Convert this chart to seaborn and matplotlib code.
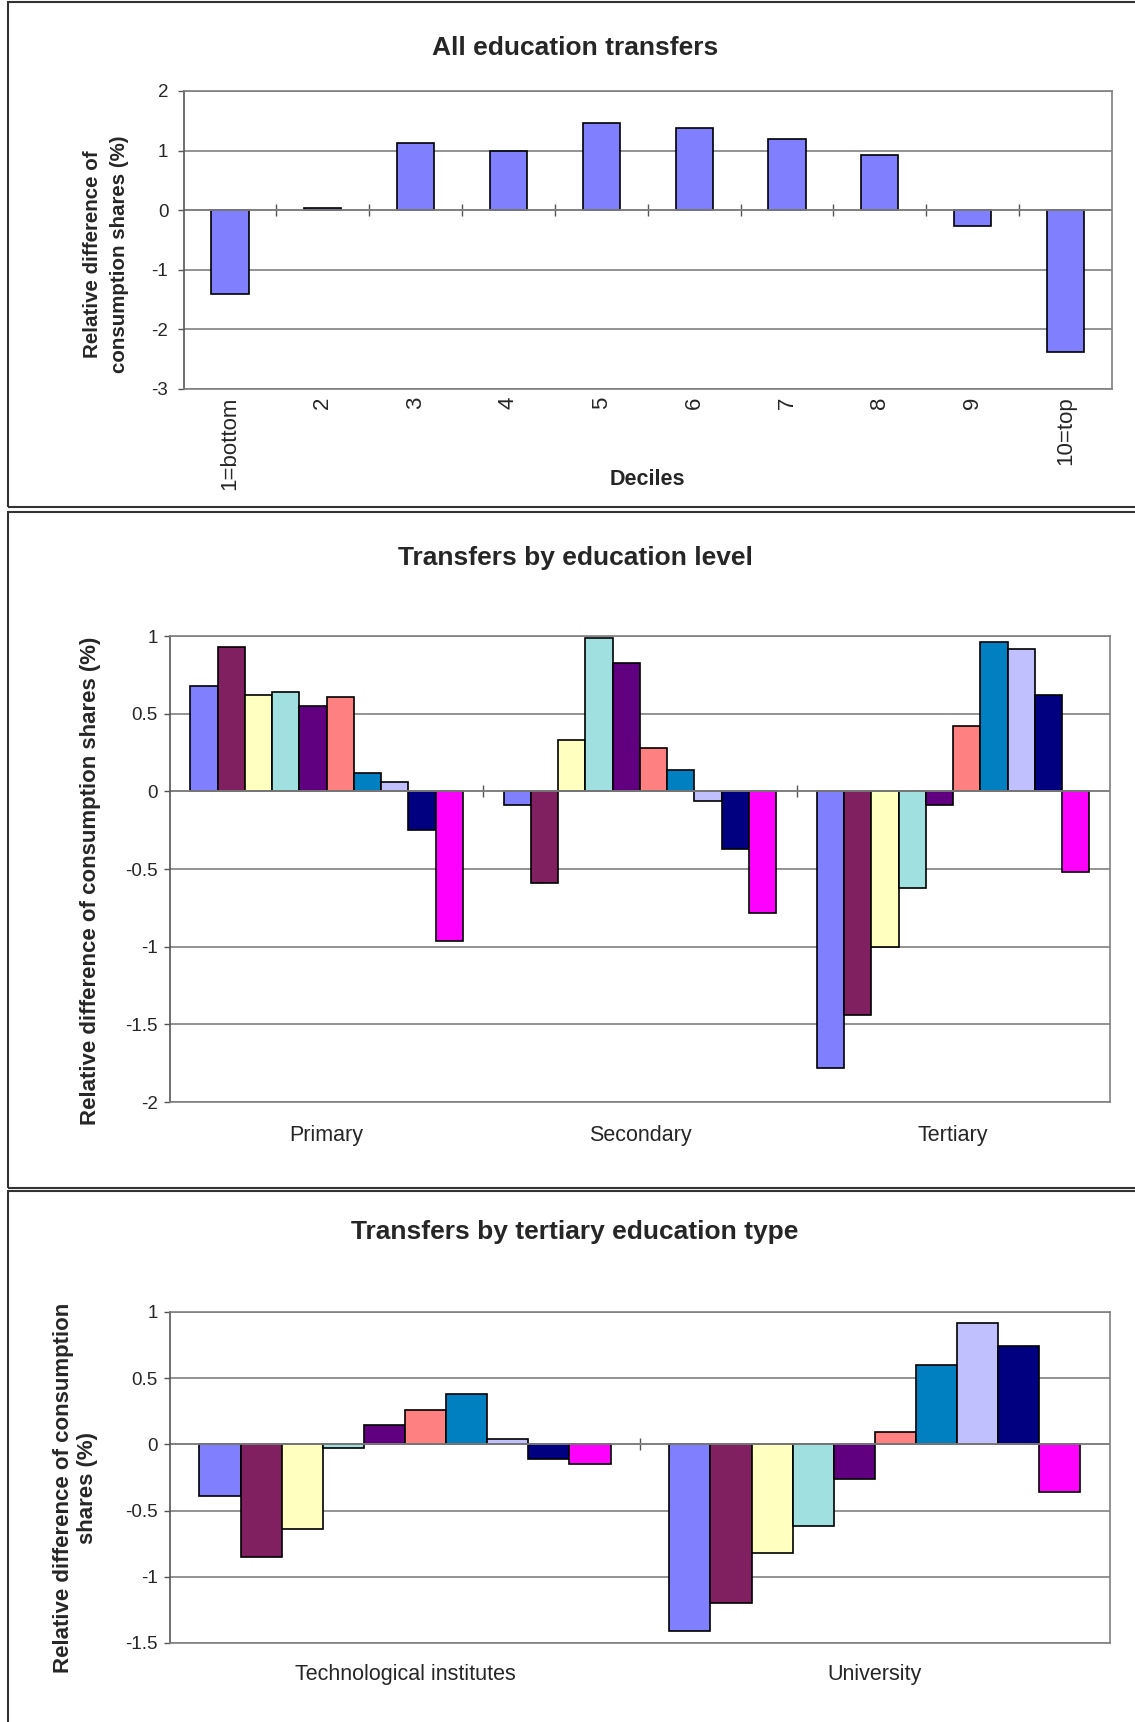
import matplotlib
matplotlib.use("Agg")
import matplotlib.pyplot as plt
from matplotlib.patches import Rectangle
from matplotlib.ticker import FuncFormatter
import seaborn as sns
import pandas as pd

# data
decile_labels = ["1=bottom", "2", "3", "4", "5", "6", "7", "8", "9", "10=top"]
all_transfers = [-1.40, 0.03, 1.13, 1.00, 1.46, 1.37, 1.20, 0.92, -0.26, -2.38]

levels = ["Primary", "Secondary", "Tertiary"]
primary = [0.68, 0.93, 0.62, 0.64, 0.55, 0.61, 0.12, 0.06, -0.25, -0.96]
secondary = [-0.09, -0.59, 0.33, 0.99, 0.83, 0.28, 0.14, -0.06, -0.37, -0.78]
tertiary = [-1.78, -1.44, -1.00, -0.62, -0.09, 0.42, 0.96, 0.92, 0.62, -0.52]

types = ["Technological institutes", "University"]
tech_inst = [-0.39, -0.85, -0.64, -0.03, 0.15, 0.26, 0.38, 0.04, -0.11, -0.15]
university = [-1.41, -1.20, -0.82, -0.62, -0.26, 0.09, 0.60, 0.92, 0.74, -0.36]

deciles = ["D1", "D2", "D3", "D4", "D5", "D6", "D7", "D8", "D9", "D10"]
colors = ["#8080FF", "#802060", "#FFFFC0", "#A0E0E0", "#600080",
          "#FF8080", "#0080C0", "#C0C0FF", "#000080", "#FF00FF"]

sns.set_style("white")
plt.rcParams['font.family'] = ['Liberation Sans', 'DejaVu Sans']
plt.rcParams['axes.unicode_minus'] = False

fig = plt.figure(figsize=(11.35, 17.22), dpi=100)

# panel frames
for bottom, top in [(0.7056, 0.9988), (0.3101, 0.7027), (-0.01, 0.3084)]:
    fig.patches.append(Rectangle((0.0068, bottom), 1.0, top - bottom, transform=fig.transFigure,
                                 fill=False, edgecolor="#333333", lw=1.5))


def style_axes(ax, ylim, step, tick_pad):
    ax.set_ylim(*ylim)
    ticks = []
    v = ylim[0]
    while v <= ylim[1] + 1e-9:
        ticks.append(round(v, 2))
        v += step
    ax.set_yticks(ticks)
    ax.yaxis.set_major_formatter(FuncFormatter(lambda y, p: "%g" % y))
    ax.grid(axis="y", color="#808080", lw=1.2)
    ax.grid(axis="x", visible=False)
    ax.set_axisbelow(True)
    for s in ["top", "right", "bottom"]:
        ax.spines[s].set_color("#808080")
        ax.spines[s].set_linewidth(1.2)
    ax.spines["left"].set_color("#555555")
    ax.spines["left"].set_linewidth(1.2)
    ax.tick_params(axis="y", left=True, length=4, width=1, color="#555555",
                   pad=tick_pad, labelsize=13.5)
    ax.tick_params(axis="x", bottom=False, labelsize=15.5)
    ax.axhline(0, color="#808080", lw=1.3, zorder=1)


def zero_ticks(ax, positions, ylim):
    frac = (0 - ylim[0]) / (ylim[1] - ylim[0])
    sec = ax.secondary_xaxis(frac)
    sec.set_xticks(positions)
    sec.tick_params(direction="inout", length=9, width=1, color="#555555",
                    labeltop=False, labelbottom=False)
    for s in sec.spines.values():
        s.set_visible(False)


# panel 1: all education transfers
ax1 = fig.add_axes([0.1617, 0.7741, 0.818, 0.1731])
sns.barplot(x=decile_labels, y=all_transfers, color="#8080FF", saturation=1, width=0.4,
            edgecolor="black", linewidth=1.2, errorbar=None, ax=ax1)
style_axes(ax1, (-3, 2), 1, 7)
ax1.set_xlim(-0.5, 9.5)
ax1.tick_params(axis="x", labelrotation=90, pad=2, labelsize=16)
zero_ticks(ax1, [i + 0.5 for i in range(9)], (-3, 2))
ax1.set_xlabel("Deciles", fontsize=15.5, fontweight="bold")
ax1.xaxis.set_label_coords(0.5, -0.268)
ax1.set_ylabel("Relative difference of\nconsumption shares (%)", fontsize=14.8,
               fontweight="bold", va="center", linespacing=1.5)
ax1.yaxis.set_label_coords(-0.0835, 0.453)

# panel 2: by education level
df2 = pd.DataFrame({
    "group": [g for g in levels for _ in deciles],
    "decile": deciles * 3,
    "value": primary + secondary + tertiary,
})
ax2 = fig.add_axes([0.1498, 0.3600, 0.828, 0.2706])
sns.barplot(data=df2, x="group", y="value", hue="decile", hue_order=deciles,
            palette=colors, saturation=1, width=0.87, edgecolor="black", linewidth=1.2,
            errorbar=None, legend=False, ax=ax2)
style_axes(ax2, (-2, 1), 0.5, 5)
ax2.set_xlim(-0.5, 2.5)
ax2.tick_params(axis="x", pad=13)
zero_ticks(ax2, [0.5, 1.5], (-2, 1))
ax2.set_xlabel("")
ax2.set_ylabel("Relative difference of consumption shares (%)", fontsize=16,
               fontweight="bold", va="center")
ax2.yaxis.set_label_coords(-0.0851, 0.475)

# panel 3: by tertiary education type
df3 = pd.DataFrame({
    "group": [g for g in types for _ in deciles],
    "decile": deciles * 2,
    "value": tech_inst + university,
})
ax3 = fig.add_axes([0.1498, 0.0459, 0.828, 0.1922])
sns.barplot(data=df3, x="group", y="value", hue="decile", hue_order=deciles,
            palette=colors, saturation=1, width=0.875, edgecolor="black", linewidth=1.2,
            errorbar=None, legend=False, ax=ax3)
style_axes(ax3, (-1.5, 1), 0.5, 5)
ax3.set_xlim(-0.5, 1.5)
ax3.tick_params(axis="x", pad=12)
zero_ticks(ax3, [0.5], (-1.5, 1))
ax3.set_xlabel("")
ax3.set_ylabel("Relative difference of consumption\nshares (%)", fontsize=16,
               fontweight="bold", va="center", linespacing=1.2)
ax3.yaxis.set_label_coords(-0.101, 0.468)

# titles
fig.text(575 / 1135, 1 - 48 / 1722, "All education transfers", ha="center", va="center",
         fontsize=19, fontweight="bold")
fig.text(575 / 1135, 1 - 558 / 1722, "Transfers by education level", ha="center", va="center",
         fontsize=19, fontweight="bold")
fig.text(575 / 1135, 1 - 1232 / 1722, "Transfers by tertiary education type", ha="center",
         va="center", fontsize=19, fontweight="bold")

fig.savefig("out.png", dpi=100, facecolor="white")
